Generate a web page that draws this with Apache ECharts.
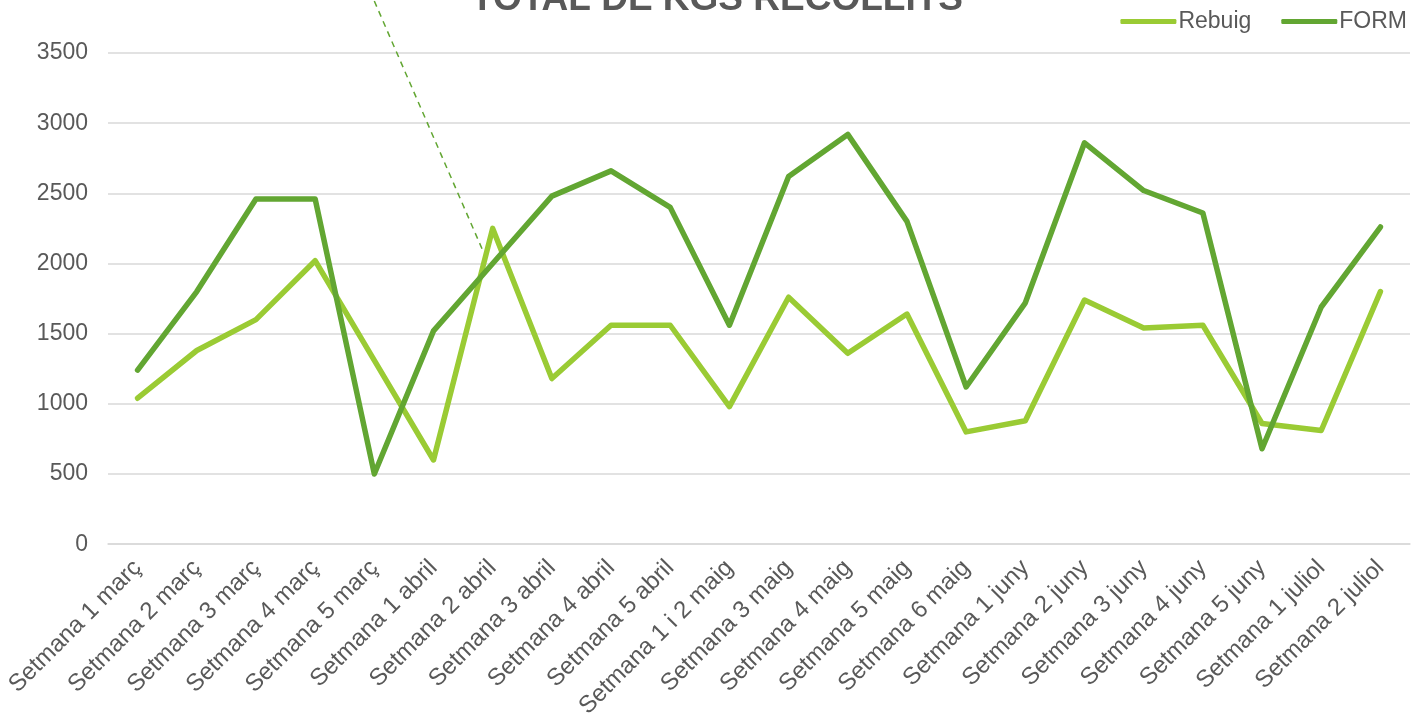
<!DOCTYPE html>
<html>
<head>
<meta charset="utf-8">
<title>Total de kgs recollits</title>
<script src="https://cdn.jsdelivr.net/npm/echarts@6/dist/echarts.min.js"></script>
<style>
  html, body { margin: 0; padding: 0; background: #fff; }
  #main { width: 1412px; height: 721px; }
</style>
</head>
<body>
<div id="main"></div>
<script>
// Setmanes (categories)
var weeks = [
  'Setmana 1 març', 'Setmana 2 març', 'Setmana 3 març', 'Setmana 4 març', 'Setmana 5 març',
  'Setmana 1 abril', 'Setmana 2 abril', 'Setmana 3 abril', 'Setmana 4 abril', 'Setmana 5 abril',
  'Setmana 1 i 2 maig', 'Setmana 3 maig', 'Setmana 4 maig', 'Setmana 5 maig', 'Setmana 6 maig',
  'Setmana 1 juny', 'Setmana 2 juny', 'Setmana 3 juny', 'Setmana 4 juny', 'Setmana 5 juny',
  'Setmana 1 juliol', 'Setmana 2 juliol'
];

// kg per week
var rebuig = [1040, 1380, 1600, 2020, 1310, 600, 2250, 1180, 1560, 1560, 980,
  1760, 1360, 1640, 800, 880, 1740, 1540, 1560, 860, 810, 1800];
var form = [1240, 1800, 2460, 2460, 500, 1520, 2000, 2480, 2660, 2400, 1560,
  2620, 2920, 2300, 1120, 1720, 2860, 2520, 2360, 680, 1690, 2260];

// dashed leader line, [category position, kg]
var leader = [[4, 3870], [5.85, 2076]];

var yTicks = { min: 0, max: 3500, interval: 500 };

var textColor = '#595959';
var font = 'Liberation Sans, Arial, sans-serif';

var chartDom = document.getElementById('main');
var chart = echarts.init(chartDom);

var option = {
  animation: false,
  textStyle: { fontFamily: font },
  title: {
    text: 'TOTAL DE KGS RECOLLITS',
    left: 466,
    top: -24,
    textStyle: {
      color: textColor,
      fontSize: 37,
      fontWeight: 'bold',
      fontFamily: font
    }
  },
  legend: {
    data: ['Rebuig', 'FORM'],
    right: 0,
    top: 5,
    icon: 'roundRect',
    itemWidth: 56,
    itemHeight: 5,
    itemGap: 30,
    textStyle: { color: textColor, fontSize: 23, fontFamily: font, padding: [0, 0, 0, -3] }
  },
  grid: {
    left: 108,
    right: 2,
    top: 53,
    bottom: 175,
    containLabel: false
  },
  xAxis: [
    {
      type: 'category',
      data: weeks,
      boundaryGap: true,
      axisLine: { show: true, lineStyle: { color: '#d9d9d9', width: 1.5 } },
      axisTick: { show: false },
      axisLabel: {
        rotate: 45,
        interval: 0,
        margin: 20,
        color: textColor,
        fontSize: 24,
        fontFamily: font
      }
    },
    {
      type: 'value',
      min: -0.5,
      max: weeks.length - 0.5,
      show: false
    }
  ],
  yAxis: {
    type: 'value',
    min: yTicks.min,
    max: yTicks.max,
    interval: yTicks.interval,
    axisLine: { show: false },
    axisTick: { show: false },
    axisLabel: {
      margin: 20,
      color: textColor,
      fontSize: 23,
      fontFamily: font,
      formatter: function (v) { return String(v); }
    },
    splitLine: { lineStyle: { color: '#d9d9d9', width: 1.5 } }
  },
  series: [
    {
      name: 'Rebuig',
      type: 'line',
      data: rebuig,
      symbol: 'none',
      lineStyle: { color: '#9acb34', width: 5.5, cap: 'round', join: 'round' },
      itemStyle: { color: '#9acb34' }
    },
    {
      name: 'FORM',
      type: 'line',
      data: form,
      symbol: 'none',
      lineStyle: { color: '#62a632', width: 5.5, cap: 'round', join: 'round' },
      itemStyle: { color: '#62a632' }
    },
    {
      name: 'leader',
      type: 'line',
      xAxisIndex: 1,
      data: leader,
      symbol: 'none',
      clip: false,
      silent: true,
      lineStyle: { color: '#62a632', width: 1.5, type: [6, 5] }
    }
  ]
};

chart.setOption(option);
window.addEventListener('resize', function () {
  chart.resize();
});
</script>
</body>
</html>
